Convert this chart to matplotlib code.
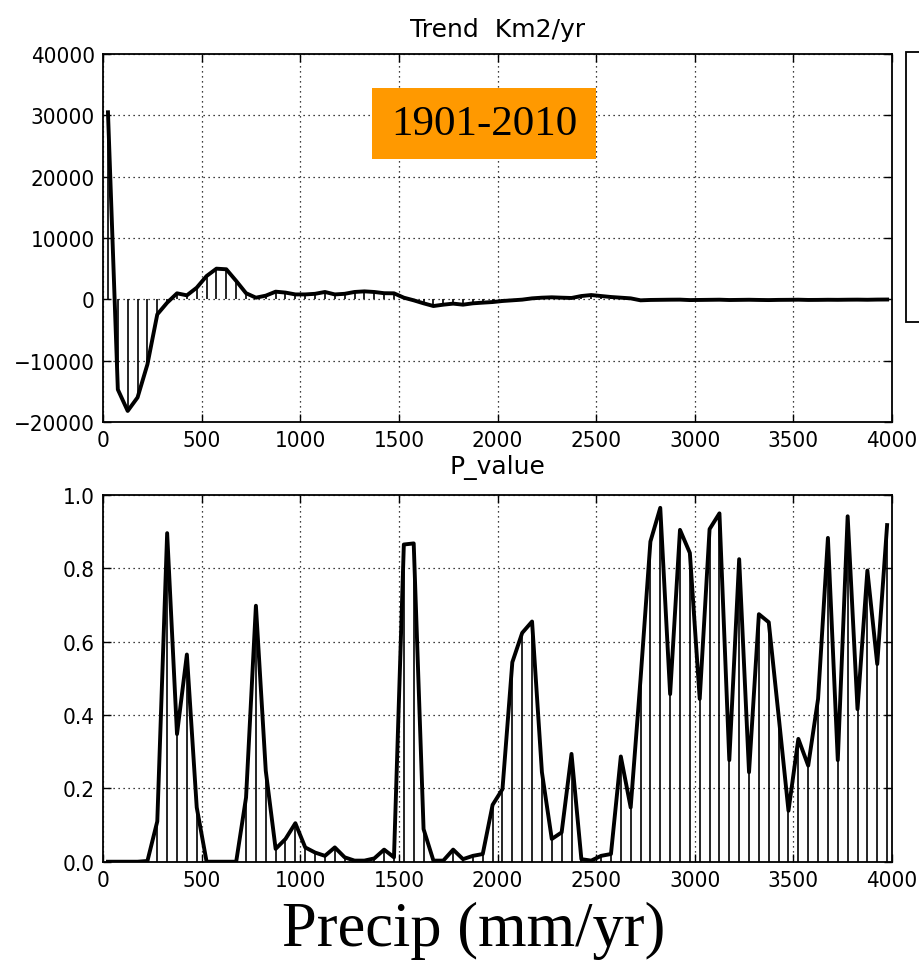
import numpy as np
import matplotlib.pyplot as plt
from matplotlib.patches import Rectangle

# Precipitation bin centres (mm/yr), 50 mm/yr bins
precip = np.arange(25, 4000, 50)

# Trend of area per bin (Km2/yr)
trend = [30500, -14700, -18200, -16000, -10600, -2450, -550, 980, 650, 1900,
         3800, 5000, 4900, 3000, 1000, 270, 600, 1250, 1100, 800,
         800, 900, 1200, 800, 900, 1200, 1300, 1200, 1000, 980,
         270, -160, -650, -1090, -870, -700, -870, -650, -540, -440,
         -270, -160, -50, 160, 270, 330, 270, 220, 540, 700,
         540, 380, 270, 160, -160, -100, -80, -60, -50, -120,
         -100, -80, -60, -110, -90, -70, -100, -120, -90, -80,
         -60, -100, -90, -70, -80, -60, -50, -70, -40, -30]

# P value of the trend per bin
pvalue = [0, 0, 0, 0, 0.002, 0.11, 0.896, 0.348, 0.565, 0.148,
          0, 0, 0, 0, 0.175, 0.698, 0.248, 0.035, 0.062, 0.105,
          0.039, 0.025, 0.016, 0.039, 0.012, 0.003, 0.003, 0.009, 0.033, 0.012,
          0.865, 0.868, 0.089, 0.003, 0.003, 0.033, 0.007, 0.016, 0.021, 0.155,
          0.198, 0.544, 0.624, 0.655, 0.244, 0.062, 0.08, 0.294, 0.007, 0.003,
          0.016, 0.021, 0.287, 0.148, 0.498, 0.873, 0.965, 0.457, 0.905, 0.842,
          0.444, 0.907, 0.95, 0.277, 0.825, 0.244, 0.675, 0.653, 0.398, 0.139,
          0.335, 0.262, 0.444, 0.883, 0.277, 0.942, 0.416, 0.794, 0.539, 0.918]

tick_font = dict(family="DejaVu Sans", size=16, stretch="condensed")

fig = plt.figure(figsize=(9.2, 9.62), dpi=100)
ax1 = fig.add_axes([0.112, 0.5603, 0.8576, 0.3825])
ax2 = fig.add_axes([0.112, 0.1032, 0.8576, 0.3812])


def style(ax):
    ax.grid(True, color="black", linestyle=(0, (1, 3)), linewidth=0.9)
    ax.tick_params(direction="in", top=True, right=True, length=6, width=1, pad=6)
    for lab in ax.get_xticklabels() + ax.get_yticklabels():
        lab.set_fontproperties(tick_font)
    for sp in ax.spines.values():
        sp.set_linewidth(1.3)
    ax.set_xlim(0, 4000)
    ax.set_xticks(range(0, 4001, 500))


# Trend panel
ax1.vlines(precip, 0, trend, color="black", linewidth=1.2)
ax1.plot(precip, trend, color="black", linewidth=2.8)
ax1.set_ylim(-20000, 40000)
ax1.set_yticks(range(-20000, 40001, 10000))
style(ax1)
ax1.set_title("Trend  Km2/yr", fontsize=18, pad=13)

# P value panel
ax2.vlines(precip, 0, pvalue, color="black", linewidth=1.2)
ax2.plot(precip, pvalue, color="black", linewidth=2.8)
ax2.set_ylim(0, 1.0)
ax2.set_yticks(np.arange(0, 1.01, 0.2))
ax2.set_yticklabels(["0.0", "0.2", "0.4", "0.6", "0.8", "1.0"])
style(ax2)
ax2.set_title("P_value", fontsize=18, pad=16)

# Period label
fig.patches.append(Rectangle((372 / 920, 1 - 160 / 962), 224 / 920, 71 / 962,
                             transform=fig.transFigure, facecolor="#FF9900",
                             edgecolor="none", zorder=5))
fig.text(484 / 920, 1 - 125 / 962, "1901-2010", family="Liberation Serif",
         fontsize=31, ha="center", va="center", zorder=6)

# Empty legend frame cut by the figure edge
fig.patches.append(Rectangle((906 / 920, 1 - 323 / 962), 40 / 920, 270 / 962,
                             transform=fig.transFigure, facecolor="white",
                             edgecolor="black", linewidth=1.3, zorder=5))

fig.text(473.7 / 920, 1 - 946 / 962, "Precip (mm/yr)", family="Liberation Serif",
         fontsize=45, ha="center", va="baseline")

fig.savefig("out.png", dpi=100)
